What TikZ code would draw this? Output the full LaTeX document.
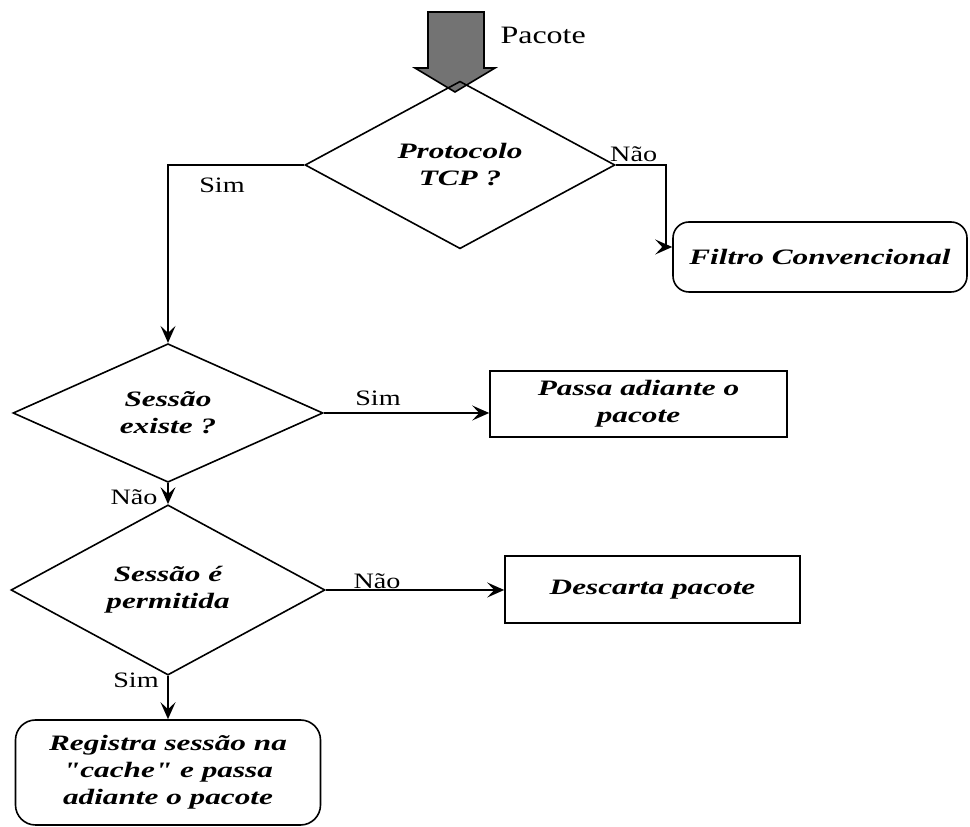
\documentclass[tikz,border=0pt]{standalone}
\usepackage{fontspec}
\setmainfont{Liberation Serif}[FakeStretch=1.28]
\newfontfamily\caixafont{Liberation Serif}[FakeStretch=1.42]
\usetikzlibrary{arrows.meta,shapes.geometric}

\begin{document}
\begin{tikzpicture}[x=1pt,y=1pt,
  every node/.style={font=\fontsize{22}{27}\selectfont},
  decisao/.style={diamond,draw,line width=1.6pt,inner sep=0pt,
    minimum width=310pt,minimum height=136pt,align=center,
    font=\caixafont\fontsize{22}{27}\selectfont\bfseries\itshape},
  caixa/.style={rectangle,draw,line width=1.6pt,inner sep=2pt,align=center,
    font=\caixafont\fontsize{22}{27}\selectfont\bfseries\itshape},
  caixaround/.style={caixa,rounded corners=16pt},
  rotulo/.style={inner sep=1pt},
  fluxo/.style={line width=1.6pt,-{Stealth[length=17pt,width=15pt,inset=7pt]}}]
  \useasboundingbox (0,0) rectangle (970,827);
  % seta grossa de entrada
  \draw[line width=1.6pt,fill=black!55]
    (428,815) -- (484,815) -- (484,759) -- (495,759) -- (455,735)
    -- (415,759) -- (428,759) -- cycle;
  \node[anchor=west,font=\fontsize{25}{30}\selectfont] (pacote) at (497,792) {Pacote};
  % decisoes
  \node[decisao] (protocolo) at (460,662) {Protocolo\\TCP ?};
  \node[decisao] (existe) at (168,414) {Sessão\\existe ?};
  \node[decisao,minimum width=314pt] (permitida) at (168,237) {Sessão é\\permitida};
  % caixas
  \node[caixaround,minimum width=294pt,minimum height=70pt] (filtro) at (820,570) {Filtro Convencional};
  \node[caixa,minimum width=297pt,minimum height=66pt] (passa) at (638.5,423) {Passa adiante o\\pacote};
  \node[caixa,minimum width=295pt,minimum height=67pt] (descarta) at (652.5,237.5) {Descarta pacote};
  \node[caixaround,minimum width=305pt,minimum height=105pt,rounded corners=20pt] (registra) at (168,54.5)
    {Registra sessão na\\"cache" e passa\\adiante o pacote};
  % ligacoes
  \draw[fluxo] (protocolo.west) -| (existe.north);
  \draw[fluxo] (protocolo.east) -- ++(50,0) |- ([yshift=10pt]filtro.west);
  \draw[fluxo] (existe.east) -- (passa.west |- existe.east);
  \draw[fluxo] (existe.south) -- (permitida.north);
  \draw[fluxo] (permitida.east) -- (descarta.west |- permitida.east);
  \draw[fluxo] (permitida.south) -- (registra.north);
  % rotulos
  \node[rotulo] (simtcp) at (222,642) {Sim};
  \node[rotulo,anchor=south west] (naotcp) at (609,664) {Não};
  \node[rotulo] (simexiste) at (378,429) {Sim};
  \node[rotulo] (naoexiste) at (134,330) {Não};
  \node[rotulo,anchor=base] (naoperm) at (377,238) {Não};
  \node[rotulo] (simperm) at (136,147) {Sim};
\end{tikzpicture}
\end{document}
